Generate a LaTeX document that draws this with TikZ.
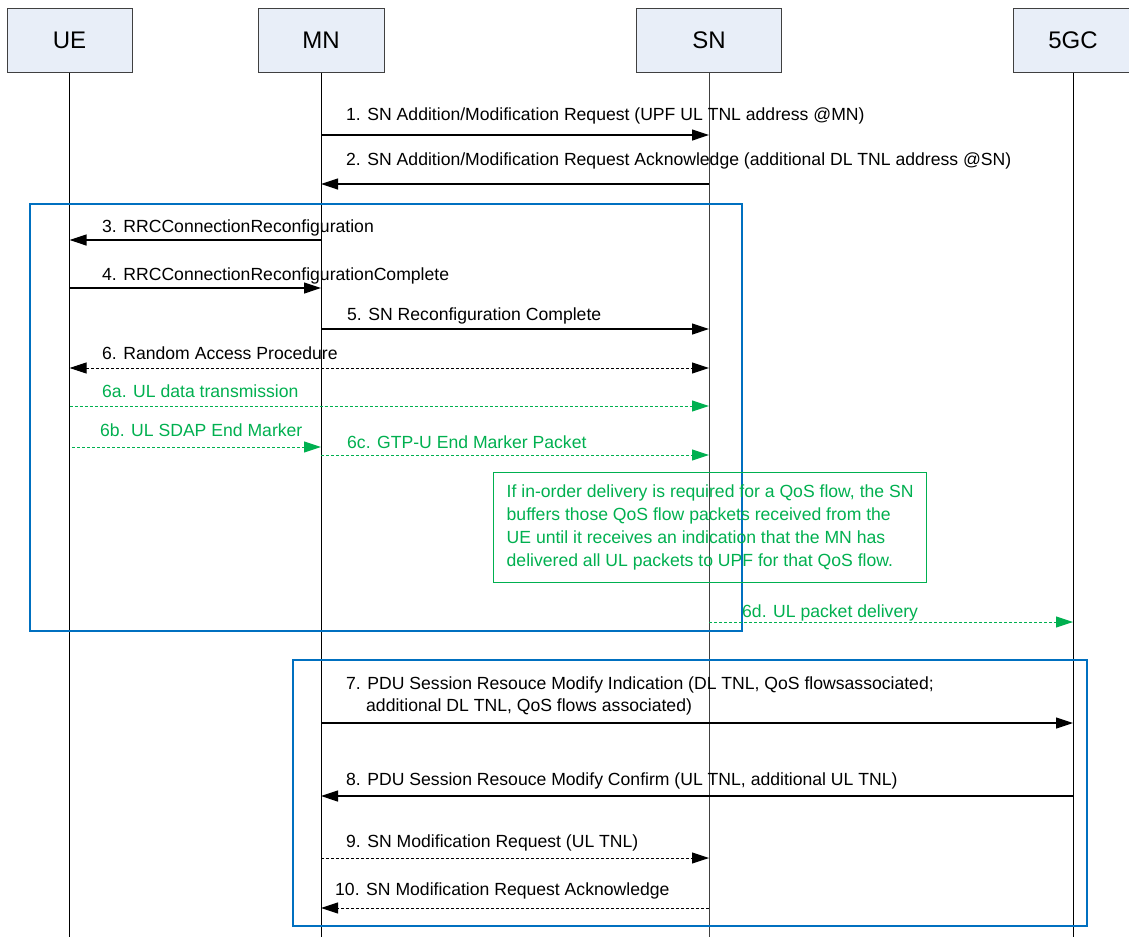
\documentclass[tikz,border=0pt]{standalone}
\usepackage{fontspec}
\setmainfont{Liberation Sans}
\usetikzlibrary{arrows.meta}
\definecolor{hdrfill}{RGB}{232,238,248}
\definecolor{hdrdraw}{RGB}{64,64,64}
\definecolor{msggreen}{RGB}{0,176,80}
\definecolor{grpblue}{RGB}{0,112,192}
\begin{document}
\begin{tikzpicture}[x=1pt,y=-1pt,
  hdr/.style={draw=hdrdraw, fill=hdrfill, line width=1pt, minimum height=64pt, inner sep=0pt, font=\fontsize{24}{28}\selectfont},
  life/.style={draw=black, line width=1pt},
  msg/.style={draw=black, line width=1.2pt, -{Triangle[length=17pt,width=11pt]}},
  dmsg/.style={msg, line width=1pt, dash pattern=on 3pt off 2pt},
  bdmsg/.style={dmsg, {Triangle[length=17pt,width=11pt]}-{Triangle[length=17pt,width=11pt]}},
  gmsg/.style={dmsg, draw=msggreen, -{Triangle[length=17pt,width=11pt,fill=msggreen]}},
  lbl/.style={anchor=base west, inner sep=0pt, font=\fontsize{17.6}{23}\selectfont},
  glbl/.style={lbl, text=msggreen},
  grp/.style={draw=grpblue, line width=1.5pt},
  notebox/.style={draw=msggreen, line width=1.3pt, text=msggreen, anchor=north west, align=left,
    minimum width=433pt, inner sep=0pt, minimum height=110pt,
    font=\fontsize{17.6}{23}\selectfont},
]
\useasboundingbox (0,0) rectangle (1129,937);
\fill[white] (0,0) rectangle (1129,937);

% headers
\node[hdr, minimum width=125pt] (ue) at (69.5,40) {UE};
\node[hdr, minimum width=126pt] (mn) at (321,40) {MN};
\node[hdr, minimum width=145pt] (sn) at (709,40) {SN};
\node[hdr, minimum width=120pt] (cn) at (1073,40) {5GC};

% lifelines
\coordinate (uebot) at (69.5,937);
\coordinate (mnbot) at (321,937);
\coordinate (snbot) at (709,937);
\coordinate (cnbot) at (1073,937);
\draw[life] (ue.south) -- (uebot);
\draw[life] (mn.south) -- (mnbot);
\draw[life, draw=black!75] (sn.south) -- (snbot);
\draw[life] (cn.south) -- (cnbot);

% group boxes
\draw[grp] (30,204) rectangle (742,631);
\draw[grp] (293,660) rectangle (1087,926);

% 1
\coordinate (mn1) at (321,135); \coordinate (sn1) at (709,135);
\draw[msg] (mn1) -- (sn1);
\node[lbl] (l1) at (346,120) {1. SN Addition/Modification Request (UPF UL TNL address @MN)};
% 2
\coordinate (sn2) at (709,184); \coordinate (mn2) at (321,184);
\draw[msg] (sn2) -- (mn2);
\node[lbl] (l2) at (346,165) {2. SN Addition/Modification Request Acknowledge (additional DL TNL address @SN)};
% 3
\coordinate (mn3) at (321,240); \coordinate (ue3) at (69.5,240);
\draw[msg] (mn3) -- (ue3);
\node[lbl] (l3) at (102,232) {3. RRCConnectionReconfiguration};
% 4
\coordinate (ue4) at (69.5,288); \coordinate (mn4) at (321,288);
\draw[msg] (ue4) -- (mn4);
\node[lbl] (l4) at (102,280) {4. RRCConnectionReconfigurationComplete};
% 5
\coordinate (mn5) at (321,329); \coordinate (sn5) at (709,329);
\draw[msg] (mn5) -- (sn5);
\node[lbl] (l5) at (347,320) {5. SN Reconfiguration Complete};
% 6
\coordinate (ue6) at (69.5,368); \coordinate (sn6) at (709,368);
\draw[bdmsg] (ue6) -- (sn6);
\node[lbl] (l6) at (102,359) {6. Random Access Procedure};
% 6a
\coordinate (ue6a) at (69.5,406); \coordinate (sn6a) at (709,406);
\draw[gmsg] (ue6a) -- (sn6a);
\node[glbl] (l6a) at (102,397) {6a. UL data transmission};
% 6b
\coordinate (ue6b) at (72,447); \coordinate (mn6b) at (321,447);
\draw[gmsg] (ue6b) -- (mn6b);
\node[glbl] (l6b) at (100,436) {6b. UL SDAP End Marker};
% 6c
\coordinate (mn6c) at (321,455); \coordinate (sn6c) at (709,455);
\draw[gmsg] (mn6c) -- (sn6c);
\node[glbl] (l6c) at (347,448) {6c. GTP-U End Marker Packet};
% note
\node[notebox] (note) at (493,472) {If in-order delivery is required for a QoS flow, the SN\\buffers those QoS flow packets received from the\\UE until it receives an indication that the MN has\\delivered all UL packets to UPF for that QoS flow.};
% 6d
\coordinate (sn6d) at (709,622); \coordinate (cn6d) at (1073,622);
\draw[gmsg] (sn6d) -- (cn6d);
\node[glbl] (l6d) at (742,617) {6d. UL packet delivery};
% 7
\coordinate (mn7) at (321,723); \coordinate (cn7) at (1073,723);
\draw[msg] (mn7) -- (cn7);
\node[lbl] (l7a) at (346,689) {7. PDU Session Resouce Modify Indication (DL TNL, QoS flowsassociated;};
\node[lbl] (l7b) at (366,711) {additional DL TNL, QoS flows associated)};
% 8
\coordinate (cn8) at (1073,796); \coordinate (mn8) at (321,796);
\draw[msg] (cn8) -- (mn8);
\node[lbl] (l8) at (346,785) {8. PDU Session Resouce Modify Confirm (UL TNL, additional UL TNL)};
% 9
\coordinate (mn9) at (321,858); \coordinate (sn9) at (709,858);
\draw[dmsg] (mn9) -- (sn9);
\node[lbl] (l9) at (346,847) {9. SN Modification Request (UL TNL)};
% 10
\coordinate (sn10) at (709,908); \coordinate (mn10) at (321,908);
\draw[dmsg] (sn10) -- (mn10);
\node[lbl] (l10) at (335,895) {10. SN Modification Request Acknowledge};
\end{tikzpicture}
\end{document}
